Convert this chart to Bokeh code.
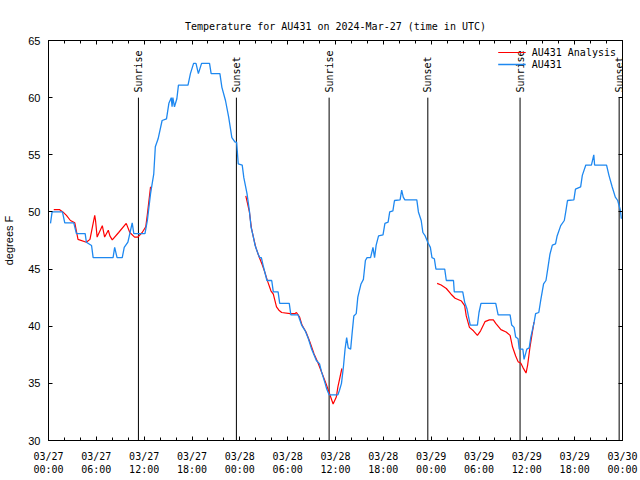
from math import pi, nan
from bokeh.plotting import figure
from bokeh.models import Range1d, LinearAxis, FixedTicker, ColumnDataSource, CustomJSTickFormatter
from bokeh.core.properties import value
from bokeh.embed import file_html
from bokeh.resources import INLINE

# ---- data (hours since 2024-03-27 00:00 UTC) ----
obs_hours = [0.25, 0.45, 1.75, 2.04, 3.17, 3.5, 4.6, 4.75, 5.4, 5.6, 8.1, 8.3, 8.6, 9.25, 9.5,
             9.96, 10.2, 10.5, 10.7, 12.1, 12.4, 12.8, 13.2, 13.4, 13.75, 14.25, 14.8, 15.1,
             15.4, 15.5, 15.6, 15.8, 16.1, 16.3, 17.5, 17.8, 18.2, 18.5, 18.8, 19.2, 20.2,
             20.4, 21.5, 21.75, 22.2, 22.6, 23.0, 23.4, 23.6, 23.8, 24.3, 24.5, 24.9, 25.2,
             25.4, 25.7, 25.9, 26.3, 26.5, 26.7, 26.96, 27.4, 28.0, 28.2, 28.8, 29.0, 30.2,
             30.4, 31.3, 31.75, 32.2, 32.6, 33.0, 33.6, 34.0, 34.25, 34.7, 34.9, 35.2, 36.3,
             36.5, 36.75, 37.0, 37.2, 37.4, 37.6, 37.9, 38.1, 38.3, 38.6, 38.8, 39.2, 39.5,
             39.75, 39.96, 40.4, 40.7, 40.9, 41.1, 41.4, 41.96, 42.2, 42.6, 42.8, 43.2, 43.4,
             44.1, 44.3, 44.5, 44.7, 46.2, 46.4, 46.75, 46.96, 47.25, 47.6, 47.9, 48.1, 48.4,
             48.6, 49.7, 49.9, 50.8, 50.9, 51.96, 52.2, 52.5, 52.9, 53.8, 54.0, 54.25, 56.1,
             56.4, 57.9, 58.1, 58.4, 58.6, 58.9, 59.05, 59.5, 59.65, 60.0, 60.3, 60.5, 60.9,
             61.1, 61.5, 61.75, 62.1, 62.4, 62.6, 62.9, 63.2, 63.6, 63.8, 64.25, 64.7, 64.9,
             65.1, 65.9, 66.1, 66.75, 66.96, 67.4, 68.1, 68.4, 68.5, 70.0, 70.3, 70.7, 71.1,
             71.4, 71.75, 71.85]
obs_temp = [49.0, 50.0, 50.0, 49.05, 49.05, 48.1, 48.1, 47.35, 47.06, 46.0, 46.0, 46.9, 46.0,
            46.0, 46.9, 47.35, 48.1, 49.05, 48.1, 48.1, 49.25, 51.6, 53.3, 55.7, 56.4, 58.0,
            58.15, 59.5, 60.0, 59.2, 60.0, 59.2, 59.9, 61.1, 61.1, 62.1, 63.0, 63.0, 62.1,
            63.0, 63.0, 62.1, 62.1, 60.9, 59.75, 58.3, 56.5, 56.1, 56.1, 54.2, 54.1, 53.0,
            51.6, 50.1, 48.7, 47.8, 47.1, 46.3, 46.0, 46.0, 45.2, 44.0, 44.0, 43.0, 43.0,
            42.0, 42.0, 41.0, 41.0, 40.1, 39.6, 38.9, 38.0, 37.0, 36.7, 36.0, 35.0, 34.5,
            34.0, 34.0, 34.4, 35.0, 36.5, 38.0, 39.0, 38.1, 38.0, 39.5, 40.9, 41.1, 42.55,
            43.7, 44.1, 45.75, 46.0, 46.0, 46.9, 46.0, 47.1, 47.9, 48.0, 49.0, 49.1, 50.0,
            50.1, 51.0, 51.05, 51.9, 51.3, 51.05, 51.05, 50.0, 49.25, 48.2, 47.9, 47.3, 46.9,
            46.0, 45.9, 45.0, 45.0, 44.0, 44.0, 43.0, 43.0, 42.1, 41.5, 40.1, 40.1, 41.2,
            42.0, 42.0, 41.0, 41.0, 40.1, 39.9, 39.05, 38.9, 38.0, 38.0, 37.1, 38.0, 38.1,
            39.05, 40.3, 41.1, 41.2, 42.3, 43.7, 44.0, 44.9, 46.3, 47.1, 47.2, 47.9, 48.8,
            49.25, 50.1, 51.0, 51.05, 52.0, 52.2, 53.2, 54.1, 54.1, 55.0, 54.1, 54.1, 53.2,
            52.2, 51.3, 51.0, 50.1, 49.4]

ana_hours = [0.66, 1.4, 1.8, 2.25, 2.75, 3.3, 3.7, 4.75, 5.2, 5.8, 5.9, 6.1, 6.75, 7.04, 7.5,
             7.7, 8.0, 8.8, 9.75, 10.2, 10.8, 11.2, 11.75, 12.2, 12.4, 12.6, 12.8,
             nan,
             24.75, 25.2, 25.45, 25.7, 26.0, 26.4, 26.8, 27.1, 27.5, 27.9, 28.2, 28.6, 28.9,
             29.25, 30.3, 30.9, 31.1, 31.5, 31.8, 32.3, 32.8, 33.3, 33.8, 34.3, 34.8, 35.1,
             35.7, 36.1, 36.3, 36.8,
             nan,
             48.75, 49.25, 49.9, 50.5, 51.0, 51.8, 52.2, 52.4, 52.8, 53.3, 53.8, 54.2, 54.75,
             55.3, 55.8, 56.1, 56.75, 57.4, 57.9, 58.2, 58.6, 58.9, 59.25, 59.5, 59.9, 60.1,
             60.4, 60.7, 60.9]
ana_temp = [50.2, 50.2, 50.0, 49.7, 49.25, 49.05, 47.6, 47.35, 47.6, 49.7, 49.25, 47.8, 48.8,
            47.8, 48.4, 47.9, 47.55, 48.2, 49.0, 48.2, 47.8, 47.8, 48.2, 48.7, 49.8, 51.0, 52.2,
            nan,
            51.4, 50.0, 48.6, 47.8, 46.9, 46.1, 45.4, 44.8, 43.9, 43.1, 42.8, 41.7, 41.4,
            41.2, 41.1, 41.1, 41.2, 40.8, 40.1, 39.5, 38.6, 37.6, 36.8, 35.9, 35.0, 34.4,
            33.2, 33.8, 34.7, 36.3,
            nan,
            43.75, 43.6, 43.3, 42.8, 42.45, 42.2, 41.8, 40.9, 39.9, 39.6, 39.2, 39.6, 40.4,
            40.55, 40.55, 40.25, 39.7, 39.5, 39.2, 38.2, 37.4, 36.9, 36.75, 36.4, 35.9, 36.6,
            38.2, 39.5, 40.35]

sun_hours = [11.28, 23.57, 35.2, 47.58, 59.15, 71.58]
sun_labels = ["Sunrise", "Sunset", "Sunrise", "Sunset", "Sunrise", "Sunset"]
sun_line_bottom = 30
sun_line_top = 60
sun_label_y = 60.45

x_tick_hours = [0, 6, 12, 18, 24, 30, 36, 42, 48, 54, 60, 66, 72]
x_tick_labels = ["03/27\n00:00", "03/27\n06:00", "03/27\n12:00", "03/27\n18:00",
                 "03/28\n00:00", "03/28\n06:00", "03/28\n12:00", "03/28\n18:00",
                 "03/29\n00:00", "03/29\n06:00", "03/29\n12:00", "03/29\n18:00",
                 "03/30\n00:00"]
x_minor_hours = list(range(0, 73, 2))
y_ticks = [30, 35, 40, 45, 50, 55, 60, 65]

MONO = "DejaVu Sans Mono"
SANS = "Liberation Sans"

p = figure(width=640, height=480, output_backend="svg", toolbar_location=None,
           x_range=Range1d(0, 72), y_range=Range1d(30, 65),
           min_border_left=46, min_border_right=18, min_border_top=40, min_border_bottom=40,
           title="Temperature for AU431 on 2024-Mar-27 (time in UTC)")
p.title.text_font = MONO
p.title.text_font_size = "10px"
p.title.text_font_style = "normal"
p.title.text_color = "black"
p.title.align = "center"
p.title.standoff = 18
p.xgrid.visible = False
p.ygrid.visible = False
p.outline_line_color = "black"
p.outline_line_width = 1
p.background_fill_color = "white"
p.border_fill_color = "white"

# sunrise / sunset markers
sun_src = ColumnDataSource(dict(x=sun_hours, y0=[sun_line_bottom] * len(sun_hours),
                                y1=[sun_line_top] * len(sun_hours),
                                ly=[sun_label_y] * len(sun_hours), text=sun_labels))
p.segment(x0="x", y0="y0", x1="x", y1="y1", source=sun_src, line_color="black", line_width=1)
p.text(x="x", y="ly", text="text", source=sun_src, angle=pi / 2, text_align="left",
       text_baseline="middle", text_font=value(MONO), text_font_size="10px", text_color="black")

# series
p.line(ana_hours, ana_temp, line_color="#ff0000", line_width=1.2, legend_label="AU431 Analysis")
p.line(obs_hours, obs_temp, line_color="#1e88f0", line_width=1.3, legend_label="AU431")

# axes
xt = FixedTicker(ticks=x_tick_hours, minor_ticks=x_minor_hours)
yt = FixedTicker(ticks=y_ticks, minor_ticks=[])
xa = p.xaxis[0]
xa.ticker = xt
xa.major_label_overrides = {h: lab for h, lab in zip(x_tick_hours, x_tick_labels)}
xa.major_label_text_font = MONO
xa.major_label_text_font_size = "10px"
xa.major_label_text_color = "black"
xa.major_label_standoff = 10
xa.major_tick_in = 4
xa.major_tick_out = 0
xa.minor_tick_in = 3
xa.minor_tick_out = 0
xa.axis_line_color = "black"

ya = p.yaxis[0]
ya.ticker = yt
ya.axis_label = "degrees F"
ya.axis_label_text_font = SANS
ya.axis_label_text_font_size = "11px"
ya.axis_label_text_font_style = "normal"
ya.axis_label_text_color = "black"
ya.axis_label_standoff = 10
ya.major_label_text_font = SANS
ya.major_label_text_font_size = "11px"
ya.major_label_text_color = "black"
ya.major_label_standoff = 8
ya.major_tick_in = 4
ya.major_tick_out = 0
ya.minor_tick_line_color = None

blank = CustomJSTickFormatter(code="return '';")
top = LinearAxis(ticker=FixedTicker(ticks=x_tick_hours, minor_ticks=x_minor_hours),
                 formatter=blank, major_label_standoff=0,
                 major_tick_in=4, major_tick_out=0, minor_tick_in=3, minor_tick_out=0)
p.add_layout(top, "above")
right = LinearAxis(ticker=FixedTicker(ticks=y_ticks, minor_ticks=[]),
                   formatter=CustomJSTickFormatter(code="return '';"), major_label_standoff=0,
                   major_tick_in=4, major_tick_out=0, minor_tick_line_color=None)
p.add_layout(right, "right")

# legend
lg = p.legend[0]
lg.location = "top_right"
lg.background_fill_alpha = 0
lg.border_line_alpha = 0
lg.label_text_font = MONO
lg.label_text_font_size = "10px"
lg.label_text_color = "black"
lg.label_height = 12
lg.glyph_height = 12
lg.glyph_width = 28
lg.spacing = 0
lg.padding = 2
lg.margin = 4
lg.label_standoff = 6

open("out.html", "w").write(file_html(p, INLINE))
